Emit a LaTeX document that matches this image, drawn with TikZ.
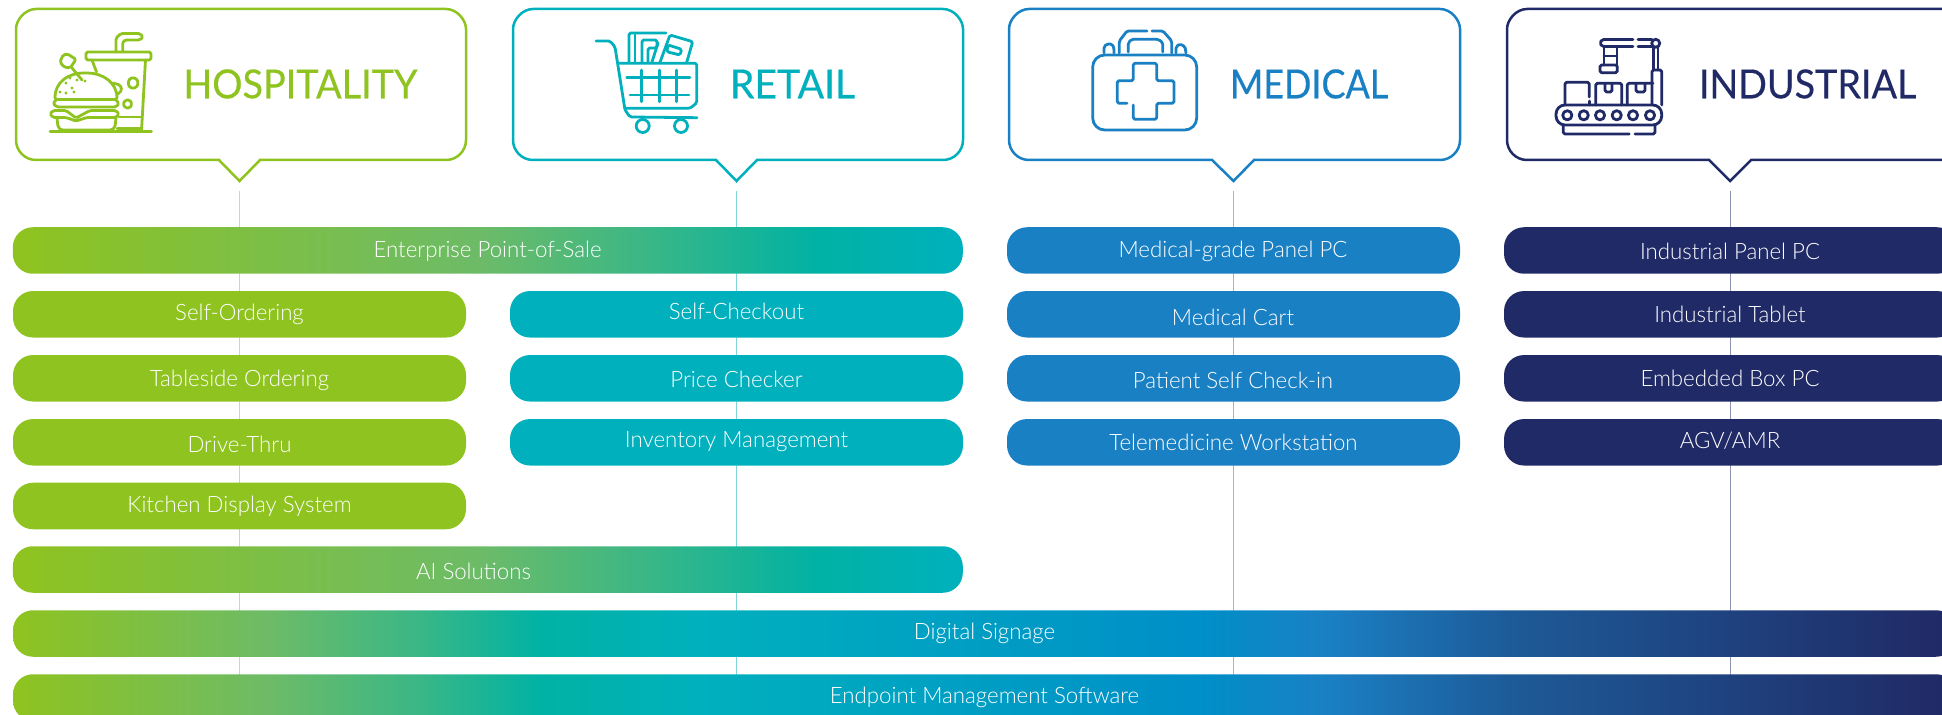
\documentclass[tikz,border=0pt]{standalone}
\usepackage{fontspec}
\setmainfont{Lato}
\newfontfamily\lightf{Lato Light}[FakeStretch=0.985]
\newfontfamily\headf{Lato}[FakeBold=0.35,FakeStretch=0.92]
\definecolor{cgreen}{HTML}{8FC31F}
\definecolor{cteal}{HTML}{00B0BD}
\definecolor{cblue}{HTML}{1A80C4}
\definecolor{cnavy}{HTML}{202A66}
\definecolor{cgt}{HTML}{00B2A4}
\definecolor{cbt}{HTML}{008FC8}
\definecolor{cg1}{HTML}{6DBB67}
\definecolor{cg2}{HTML}{3CB785}
\definecolor{cn1}{HTML}{1D5A97}
\definecolor{lgreen}{HTML}{CBD9B0}
\definecolor{lteal}{HTML}{80D6DC}
\definecolor{lblue}{HTML}{8DBFE1}
\definecolor{lnavy}{HTML}{9094B2}
\pgfdeclarehorizontalshading{gshort}{100bp}{color(0bp)=(cgreen); color(25bp)=(cgreen); color(49.5bp)=(cg1); color(58bp)=(cg2); color(67.3bp)=(cgt); color(75bp)=(cteal); color(100bp)=(cteal)}
\pgfdeclarehorizontalshading{glong}{100bp}{color(0bp)=(cgreen); color(25bp)=(cgreen); color(31.6bp)=(cg1); color(35.3bp)=(cg2); color(38.6bp)=(cgt); color(42.7bp)=(cteal); color(55.5bp)=(cbt); color(58.8bp)=(cblue); color(63.6bp)=(cn1); color(74.6bp)=(cnavy); color(100bp)=(cnavy)}
\tikzset{
  pill/.style={rectangle,rounded corners=10pt,minimum height=23.25pt,inner sep=0pt,outer sep=0pt,draw=none},
  pw/.style={minimum width=#1*0.5pt},
  lbl/.style={anchor=base,text=white,inner sep=0pt,font=\lightf\fontsize{11.3}{13}\selectfont},
  hd/.style={anchor=base west,inner sep=0pt,font=\headf\fontsize{20}{24}\selectfont},
  bubble/.style={line width=1.25pt,fill=white,line join=miter},
  icon/.style={line width=1.4pt,line cap=round,line join=round,rounded corners=0.8pt},
  stem/.style={line width=0.5pt},
}
\newcommand{\bub}[6]{\draw[bubble,draw=#1] (#2+20,9) -- (#3-20,9) .. controls (#3-9,9) and (#3,20) .. (#3,29) -- (#3,140) .. controls (#3,151) and (#3-9,160) .. (#3-20,160) -- (#5,160) -- (#6,181) -- (#4,160) -- (#2+20,160) .. controls (#2+9,160) and (#2,151) .. (#2,140) -- (#2,29) .. controls (#2,20) and (#2+9,9) .. (#2+20,9) -- cycle;}
\begin{document}
\begin{tikzpicture}[x=0.5pt,y=-0.5pt]
\useasboundingbox (0,0) rectangle (1942,715);
\clip (0,0) rectangle (1942,715);
% stems
\coordinate (s1a) at (239.5,191); \coordinate (s1b) at (239.5,680);
\coordinate (s2a) at (736.5,191); \coordinate (s2b) at (736.5,680);
\coordinate (s3a) at (1233.5,191); \coordinate (s3b) at (1233.5,680);
\coordinate (s4a) at (1730,191); \coordinate (s4b) at (1730,680);
\draw[stem,lgreen] (s1a) -- (s1b);
\draw[stem,lteal] (s2a) -- (s2b);
\draw[stem,lblue] (s3a) -- (s3b);
\draw[stem,lnavy] (s4a) -- (s4b);
% bubbles
\bub{cgreen}{16}{466}{219}{260}{239.5}
\bub{cteal}{513}{963}{716}{757}{736.5}
\bub{cblue}{1009}{1460}{1212}{1254}{1233.5}
\bub{cnavy}{1507}{1990}{1709}{1751}{1730}
\node[hd,text=cgreen] (hHosp) at (183,98.3) {\scalebox{1.027}[1]{HOSPITALITY}};
\node[hd,text=cteal] (hRet) at (729.5,98.3) {\scalebox{1.065}[1]{RETAIL}};
\node[hd,text=cblue] (hMed) at (1229.5,98.3) {\scalebox{0.977}[1]{MEDICAL}};
\node[hd,text=cnavy] (hInd) at (1698.5,98.3) {\scalebox{1.024}[1]{INDUSTRIAL}};
% gradient pills
\node[pill,pw=950,shading=gshort] (pEnt) at (487.8,250.5) {};
\node[pill,pw=950,shading=gshort] (pAI) at (487.8,569.5) {};
\node[pill,pw=1943,shading=glong] (pDig) at (984.5,633.5) {};
\node[pill,pw=1943,shading=glong] (pEnd) at (984.5,697.5) {};
% solid pills
\node[pill,pw=453,fill=cgreen] (h1) at (239.5,314.3) {};
\node[pill,pw=453,fill=cgreen] (h2) at (239.5,378.3) {};
\node[pill,pw=453,fill=cgreen] (h3) at (239.5,442.3) {};
\node[pill,pw=453,fill=cgreen] (h4) at (239.5,506) {};
\node[pill,pw=453,fill=cteal] (r1) at (736.5,314.3) {};
\node[pill,pw=453,fill=cteal] (r2) at (736.5,378.3) {};
\node[pill,pw=453,fill=cteal] (r3) at (736.5,442.3) {};
\node[pill,pw=453,fill=cblue] (m1) at (1233.5,250.5) {};
\node[pill,pw=453,fill=cblue] (m2) at (1233.5,314.3) {};
\node[pill,pw=453,fill=cblue] (m3) at (1233.5,378.3) {};
\node[pill,pw=453,fill=cblue] (m4) at (1233.5,442.3) {};
\node[pill,pw=453,fill=cnavy] (i1) at (1730.5,250.5) {};
\node[pill,pw=453,fill=cnavy] (i2) at (1730.5,314.3) {};
\node[pill,pw=453,fill=cnavy] (i3) at (1730.5,378.3) {};
\node[pill,pw=453,fill=cnavy] (i4) at (1730.5,442.3) {};
% labels
\node[lbl] (tEnt) at (487.6,257.3) {Enterprise Point-of-Sale};
\node[lbl] (tAI) at (473.5,579) {AI Solutions};
\node[lbl] (tDig) at (984.5,639.3) {Digital Signage};
\node[lbl] (tEnd) at (984.5,703.7) {Endpoint Management Software};
\node[lbl] (th1) at (239.5,321) {Self-Ordering};
\node[lbl] (th2) at (239.5,387) {Tableside Ordering};
\node[lbl] (th3) at (239.5,452.7) {Drive-Thru};
\node[lbl] (th4) at (239.5,512.7) {Kitchen Display System};
\node[lbl] (tr1) at (736.5,320) {Self-Checkout};
\node[lbl] (tr2) at (736.5,387.2) {Price Checker};
\node[lbl] (tr3) at (736.5,447.3) {Inventory Management};
\node[lbl] (tm1) at (1233,257.3) {Medical-grade Panel PC};
\node[lbl] (tm2) at (1233,326) {Medical Cart};
\node[lbl] (tm3) at (1233,388.7) {Patient Self Check-in};
\node[lbl] (tm4) at (1233.5,450.7) {Telemedicine Workstation};
\node[lbl] (ti1) at (1730,259.3) {Industrial Panel PC};
\node[lbl] (ti2) at (1730,322.7) {Industrial Tablet};
\node[lbl] (ti3) at (1730,386.7) {Embedded Box PC};
\node[lbl] (ti4) at (1730,449) {AGV/AMR};
% --- burger & drink
\begin{scope}[icon,draw=cgreen]
\draw (50,131.7) -- (151.5,131.7);
\draw (92,60) -- (96.5,72);
\draw (145.5,60) -- (141.5,131);
\draw (86,52) -- (151,52) -- (151,60) -- (86,60) -- cycle;
\draw (116,52) -- (116,38) -- (121,33.5) -- (140,33.5) -- (143,37) -- (140,40) -- (125,40) -- (122.7,42) -- (122.7,52);
\draw (117,128.5) -- (141,128.5);
\draw (119,117) -- (141,117);
\draw (128,83) -- (130,78) -- (136,78) -- (138.5,83) -- (136,88) -- (130,88) -- cycle;
\draw (123,104) -- (125.5,100) -- (130,100) -- (132,104) -- (130,108) -- (125.5,108) -- cycle;
\draw (55,99.5) .. controls (55,82) and (68,73) .. (86,73) .. controls (102,73) and (117,82) .. (117,99.5) -- cycle;
\draw (72,68) -- (82,80);
\draw (63,55) -- (68,54) -- (72,57) -- (76,59) -- (73,64) -- (70,68) -- (64,67) -- (60,62) -- cycle;
\draw (113,83) -- (120,85) -- (122,90) -- (118,94);
\draw (56,100) -- (53,103.5) -- (57,107) -- (116,107) -- (119,103.5) -- (116,100);
\draw (53,110.5) -- (50,114) -- (53,117.5) -- (66,117.5) -- (76,121) -- (87,117.5) -- (116,117.5) -- (119,114) -- (116,110.5) -- (90,110.5) -- (76,118) -- (66,110.5) -- cycle;
\draw (57,118) -- (58,127) -- (61,130) -- (112,130) -- (115,127) -- (116,118);
\foreach \sx/\sy in {66/83,72/88,77/80,70/78,85/81,60/92,74/92,66/93}
  \fill[cgreen] (\sx,\sy) circle (0.8pt);
\end{scope}
% --- cart
\begin{scope}[icon,draw=cteal]
\draw (596,41) -- (610,41) -- (615,47) -- (625,110) -- (630,117) -- (697,117.7);
\draw (618,63.3) -- (696.7,63.3) -- (696.7,103) -- (690,108.3) -- (625,108.3);
\draw (626.7,77.7) -- (690,77.7);
\draw (630,95) -- (689,95);
\draw (641.7,70) -- (641.7,101.7);
\draw (659.3,70) -- (659.3,101.7);
\draw (676.7,70) -- (676.7,101.7);
\draw (642.7,126) circle (3.25pt);
\draw (681,126) circle (3.25pt);
\draw (629,62) -- (629,33) -- (666,33);
\draw (635,33) -- (635,62);
\draw (642,62) -- (642,40) -- (657,40) -- (657,48) -- (648,48) -- (648,62);
\draw (658,43) -- (652,62);
\draw (660,62.3) -- (670,35) -- (692.7,41.7) -- (686.7,62.3);
\draw (668,45) -- (681.7,49.3) -- (680,55) -- (666.7,51.7) -- cycle;
\end{scope}
% --- medical case
\begin{scope}[icon,draw=cblue]
\draw[rounded corners=6pt] (1092.7,55) rectangle (1196.7,130);
\draw (1119.3,53) -- (1119.3,41) -- (1127,31) -- (1147,31);
\draw (1152,31) -- (1163,31) -- (1171.7,41) -- (1171.7,53);
\draw (1128.3,52) -- (1128.3,42.7) -- (1131.7,39.3) -- (1158.3,39.3) -- (1162.7,42.7) -- (1162.7,52);
\draw (1104,53) -- (1104,46.7) -- (1107,44) -- (1112,44) -- (1114,48) -- (1114,53);
\draw (1176,53) -- (1176,46.7) -- (1180,44) -- (1185,46.7) -- (1186,53);
\draw (1127,103.3) -- (1117.3,103.3) -- (1117.3,80.7) -- (1133.3,80.7) -- (1133.3,63.3) -- (1156.7,63.3) -- (1156.7,80.7) -- (1174,80.7) -- (1174,103.3) -- (1156.7,103.3) -- (1156.7,119.3) -- (1133.3,119.3) -- (1133.3,105);
\end{scope}
% --- conveyor
\begin{scope}[icon,draw=cnavy]
\draw[rounded corners=4.5pt] (1556,105) rectangle (1661.7,125);
\foreach \cx in {1567.3,1583.7,1600,1616.7,1633,1650}
  \draw (\cx,115.3) circle (2.3pt);
\draw (1563.3,125) -- (1563.3,134) -- (1629.3,134);
\draw (1635,134) -- (1655,134) -- (1655,125);
\draw (1589.3,97) -- (1589.3,82.3) -- (1565,82.3) -- (1565,105);
\draw (1589.3,101) -- (1589.3,105);
\draw (1595.7,105) -- (1595.7,83.3) -- (1621.7,83.3) -- (1621.7,105);
\draw (1605,83.3) -- (1605,92) -- (1612,92) -- (1612,83.3);
\draw (1627.3,105) -- (1627.3,83.3) -- (1653,83.3);
\draw (1636,83.3) -- (1636,92) -- (1645,92) -- (1645,83.3);
\draw (1652,105) -- (1652,70) -- (1661.7,70) -- (1661.7,105);
\draw (1633,39.5) -- (1602,39.5) -- (1600,43) -- (1602,46.5) -- (1633,46.5);
\draw (1638,46.5) -- (1652,46.5);
\draw (1638,39.5) -- (1652,39.5);
\draw (1604,47) -- (1604,65);
\draw (1617,47) -- (1617,65);
\draw (1604,56) -- (1617,56);
\draw (1600,65) rectangle (1617.3,72.7);
\draw (1653.3,47) -- (1653.3,70);
\draw (1658,47) -- (1658,70);
\draw (1655.7,43.3) circle (2pt);
\end{scope}
\end{tikzpicture}
\end{document}
